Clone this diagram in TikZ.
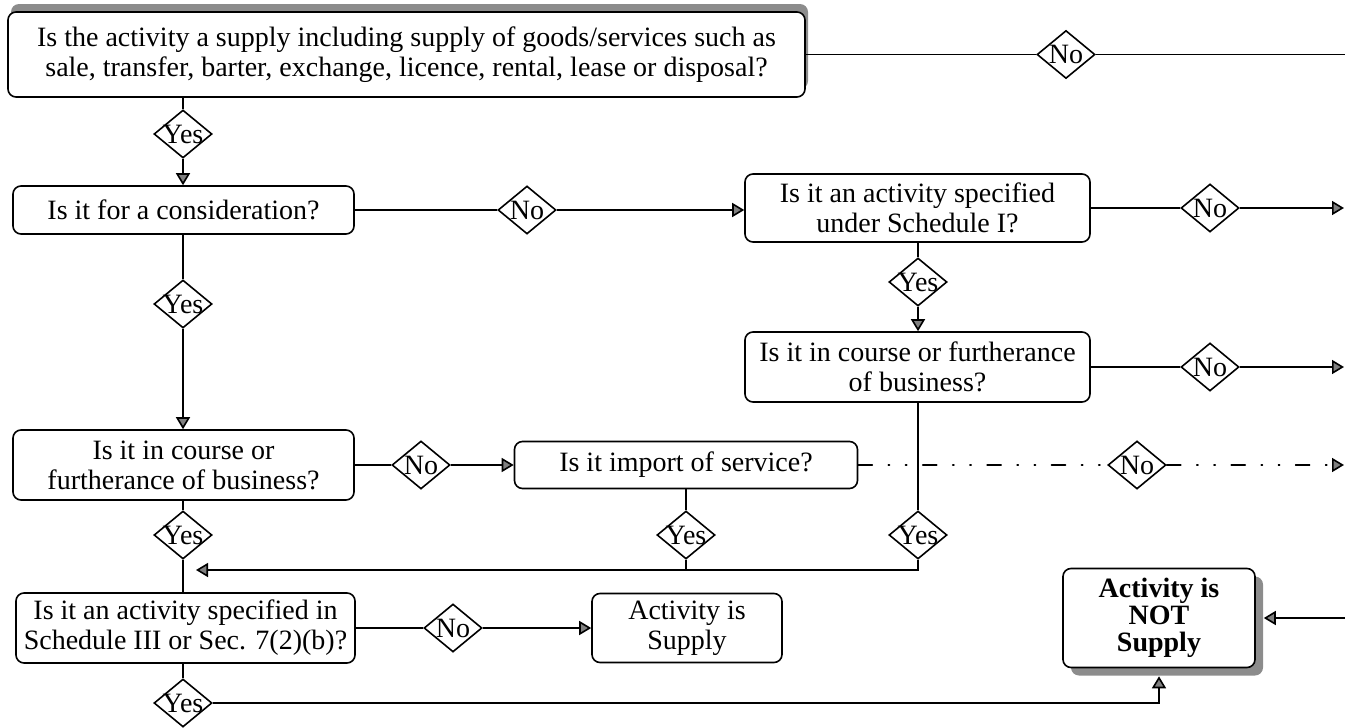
\documentclass[tikz,border=0pt]{standalone}
\usepackage{fontspec}
\setmainfont{Liberation Serif}
\usetikzlibrary{shapes.geometric,arrows.meta,shadows,calc}
\newcommand{\qfont}{\fontsize{14}{15}\selectfont}
\newcommand{\dlabel}[1]{\makebox[0pt]{#1}}
\tikzset{
  qbox/.style={draw, fill=white, rounded corners=4pt, line width=0.8pt, align=center, inner sep=0pt, font=\qfont},
  ybox/.style={draw, diamond, fill=white, line width=0.8pt, inner sep=0pt, minimum width=29pt, minimum height=24pt, font=\qfont},
  flow/.style={line width=0.8pt},
  arr/.style={flow, -{Triangle[length=6pt,width=7pt,fill=black!50]}},
  dotline/.style={dash pattern=on 7pt off 8pt on 0.6pt off 8pt on 0.6pt off 8pt, line cap=round},
}

\begin{document}
\begin{tikzpicture}[x=0.5pt,y=-0.5pt]
		%%%%% START %%%%%
		\useasboundingbox (0,0) rectangle (1345,728);
		
		\node[qbox, minimum width=398.5pt, minimum height=42.5pt, general shadow={fill=black!45, shadow xshift=1.5pt, shadow yshift=4pt}] (supply) at (406.5,54.5) {Is the activity a supply including supply of goods/services such as\\ sale, transfer, barter, exchange, licence, rental, lease or disposal?};
		\node[ybox] (nosupply) at (1066,54.5) {\dlabel{No}};
		\coordinate (edgeA) at (1345,54.5);
		\draw[flow] (supply) -- (nosupply) -- (edgeA);
		
		\node[ybox] (yes1) at (183,134) {\dlabel{Yes}};
		\node[qbox, minimum width=170.5pt, minimum height=24pt] (consid) at (183.5,210) {Is it for a consideration?};
		\draw[flow] (supply.south -| yes1) -- (yes1);
		\draw[arr] (yes1) -- (yes1 |- consid.north);
		
		\node[ybox] (no2) at (527,210) {\dlabel{No}};
		\node[qbox, minimum width=172.5pt, minimum height=34pt] (sched1) at (917.5,208) {Is it an activity specified\\ under Schedule I?};
		\draw[flow] (consid) -- (no2);
		\draw[arr] (no2) -- (sched1.west |- no2);
		\node[ybox] (no3) at (1210,208) {\dlabel{No}};
		\coordinate (edgeC) at (1344,208);
		\draw[flow] (sched1) -- (no3);
		\draw[arr] (no3) -- (edgeC);
		
		\node[ybox] (yes2) at (918,282) {\dlabel{Yes}};
		\node[qbox, minimum width=172.5pt, minimum height=35pt] (furth2) at (917.5,367) {Is it in course or furtherance\\ of business?};
		\draw[flow] (sched1.south -| yes2) -- (yes2);
		\draw[arr] (yes2) -- (yes2 |- furth2.north);
		\node[ybox] (no4) at (1210,367) {\dlabel{No}};
		\coordinate (edgeD) at (1344,367);
		\draw[flow] (furth2) -- (no4);
		\draw[arr] (no4) -- (edgeD);
		
		\node[ybox] (yes3) at (183,304) {\dlabel{Yes}};
		\node[qbox, minimum width=170.5pt, minimum height=35pt] (furth1) at (183.5,465) {Is it in course or\\ furtherance of business?};
		\draw[flow] (consid.south -| yes3) -- (yes3);
		\draw[arr] (yes3) -- (yes3 |- furth1.north);
		
		\node[ybox] (no5) at (421,465) {\dlabel{No}};
		\node[qbox, minimum width=171.5pt, minimum height=23.5pt] (import) at (686,465) {Is it import of service?};
		\draw[flow] (furth1) -- (no5);
		\draw[arr] (no5) -- (import);
		
		% dotted branch, drawn before the vertical line that crosses it
		\node[ybox] (no6) at (1137,465) {\dlabel{No}};
		\coordinate (edgeE) at (1344,465);
		\draw[flow, dotline] (import) -- (no6);
		\draw[arr, dotline] (no6) -- (edgeE);
		
		\node[qbox, minimum width=169.5pt, minimum height=35pt] (sched3) at (185.5,628) {Is it an activity specified in\\ Schedule III or Sec. 7(2)(b)?};
		\node[ybox] (yes4) at (183,535) {\dlabel{Yes}};
		\draw[flow] (furth1.south -| yes4) -- (yes4) -- (yes4 |- sched3.north);
		
		\node[ybox] (yes5) at (686,535) {\dlabel{Yes}};
		\node[ybox] (yes6) at (918,535) {\dlabel{Yes}};
		\coordinate (joinR) at (918,570);
		\coordinate (joinL) at (196,570);
		\draw[flow] (import) -- (yes5) -- (yes5 |- joinR);
		\draw[flow] (furth2.south -| yes6) -- (yes6);
		\draw[arr] (yes6) -- (joinR) -- (joinL);
		
		\node[ybox] (no7) at (453,628) {\dlabel{No}};
		\node[qbox, minimum width=95pt, minimum height=34.5pt] (isupply) at (687,628) {Activity is\\ Supply};
		\draw[flow] (sched3) -- (no7);
		\draw[arr] (no7) -- (isupply);
		
		\node[ybox] (yes7) at (183,703) {\dlabel{Yes}};
		\draw[flow] (sched3.south -| yes7) -- (yes7);
		
		\node[qbox, font=\fontsize{14}{13.5}\selectfont\bfseries, minimum width=96pt, minimum height=49.5pt, general shadow={fill=black!45, shadow xshift=4pt, shadow yshift=-4pt}] (notsupply) at (1159,618) {Activity is\\ NOT\\ Supply};
		\coordinate (edgeB) at (1345,618);
		\draw[arr] (edgeB) -- ($(notsupply.east)+(8,0)$);
		\draw[arr] (yes7) -| ($(notsupply.south)+(0,8)$);
		%%%%% END %%%%%
\end{tikzpicture}
\end{document}
